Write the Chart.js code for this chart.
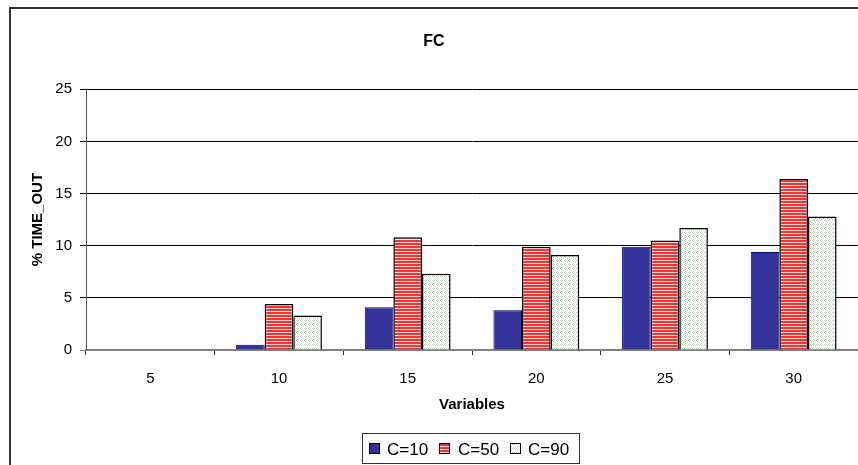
<!DOCTYPE html>
<html>
<head>
<meta charset="utf-8">
<script src="https://cdn.jsdelivr.net/npm/chart.js@4.4.0/dist/chart.umd.min.js"></script>
<style>
  html, body { margin: 0; padding: 0; background: #fff; }
  #wrap { width: 858px; height: 465px; }
</style>
</head>
<body>
<div id="wrap"><canvas id="chart" width="858" height="465"></canvas></div>
<script>
// chart data
const categories = ['5', '10', '15', '20', '25', '30'];
const seriesNames = ['C=10', 'C=50', 'C=90'];
const c10Values = [0, 0.5, 4.1, 3.8, 9.9, 9.4];
const c50Values = [0, 4.4, 10.8, 9.9, 10.5, 16.4];
const c90Values = [0, 3.3, 7.3, 9.1, 11.7, 12.8];
const yTicks = [0, 5, 10, 15, 20, 25];

// fill patterns like the old office chart
function makePattern(w, h, draw) {
    const c = document.createElement('canvas');
    c.width = w;
    c.height = h;
    const g = c.getContext('2d');
    draw(g);
    return g.createPattern(c, 'repeat');
}
const bluePattern = '#333399';
const redPattern = makePattern(4, 3, function(g) {
    g.fillStyle = '#ff3030';
    g.fillRect(0, 0, 4, 3);
    g.fillStyle = '#ffe0e0';
    g.fillRect(0, 2, 4, 1);
});
const greenPattern = makePattern(4, 4, function(g) {
    g.fillStyle = '#ffffff';
    g.fillRect(0, 0, 4, 4);
    g.fillStyle = '#b8dcb8';
    g.fillRect(0, 0, 1, 1);
    g.fillRect(2, 0, 1, 1);
    g.fillRect(1, 1, 1, 1);
    g.fillRect(3, 2, 1, 1);
    g.fillRect(1, 3, 1, 1);
});

const FONT = "Arial, 'Liberation Sans', sans-serif";

// outer frame + legend box
const framePlugin = {
    id: 'frame',
    beforeDraw(chart) {
        const ctx = chart.ctx;
        ctx.save();
        ctx.strokeStyle = '#333333';
        ctx.lineWidth = 2;
        ctx.strokeRect(10, 8, 900, 520);
        ctx.restore();
    },
    afterDraw(chart) {
        const ctx = chart.ctx;
        ctx.save();
        ctx.strokeStyle = '#333333';
        ctx.lineWidth = 1;
        ctx.strokeRect(362.5, 433.5, 217, 30);
        ctx.font = '17px ' + FONT;
        ctx.textBaseline = 'middle';
        ctx.fillStyle = '#000';
        const swX = [369, 439, 510];
        const txX = [387, 458, 528];
        chart.data.datasets.forEach(function(ds, i) {
            ctx.fillStyle = ds.backgroundColor;
            ctx.fillRect(swX[i], 443, 11, 11);
            ctx.strokeStyle = '#000';
            ctx.strokeRect(swX[i] + 0.5, 443.5, 10, 10);
            ctx.fillStyle = '#000';
            ctx.fillText(ds.label, txX[i], 450);
        });
        ctx.restore();
    }
};

new Chart(document.getElementById('chart'), {
    type: 'bar',
    data: {
        labels: categories,
        datasets: [
            { label: seriesNames[0], data: c10Values, backgroundColor: bluePattern, borderColor: '#000080', borderWidth: 1 },
            { label: seriesNames[1], data: c50Values, backgroundColor: redPattern, borderColor: '#000000', borderWidth: 1.5 },
            { label: seriesNames[2], data: c90Values, backgroundColor: greenPattern, borderColor: '#000000', borderWidth: 1.5 }
        ]
    },
    options: {
        responsive: false,
        animation: false,
        events: [],
        layout: { padding: { left: 10, top: 0, right: 0, bottom: 0 } },
        datasets: {
            bar: { categoryPercentage: 0.667, barPercentage: 1.0, borderSkipped: 'start' }
        },
        plugins: {
            legend: { display: false },
            tooltip: { enabled: false },
            title: {
                display: true,
                text: 'FC',
                color: '#000',
                font: { family: FONT, size: 16, weight: 'bold', lineHeight: 1.2 },
                padding: { top: 32, bottom: 38 }
            }
        },
        scales: {
            x: {
                offset: true,
                grid: { offset: true, drawOnChartArea: false, drawTicks: true, tickLength: 5, color: '#333' },
                border: { color: '#808080', width: 2 },
                ticks: { color: '#000', font: { family: FONT, size: 15 }, padding: 15, maxRotation: 0 },
                title: {
                    display: true,
                    text: 'Variables',
                    color: '#000',
                    font: { family: FONT, size: 15, weight: 'bold', lineHeight: 1.2 },
                    padding: { top: 0, bottom: 51 }
                },
                afterFit(scale) { scale.height = 115; }
            },
            y: {
                min: 0,
                max: 25,
                afterBuildTicks(scale) { scale.ticks = yTicks.map(v => ({ value: v })); },
                grid: {
                    color: ctx => ctx.tick && ctx.tick.value === 0 ? '#808080' : '#000',
                    lineWidth: 1,
                    tickLength: 6
                },
                border: { color: '#555', width: 1 },
                ticks: { color: '#000', font: { family: FONT, size: 15 }, padding: 8 },
                title: {
                    display: true,
                    text: '% TIME_OUT',
                    color: '#000',
                    font: { family: FONT, size: 15, weight: 'bold', lineHeight: 1.2 },
                    padding: { top: 19, bottom: 0 }
                },
                afterFit(scale) { scale.width = 76; }
            }
        }
    },
    plugins: [framePlugin]
});
</script>
</body>
</html>
